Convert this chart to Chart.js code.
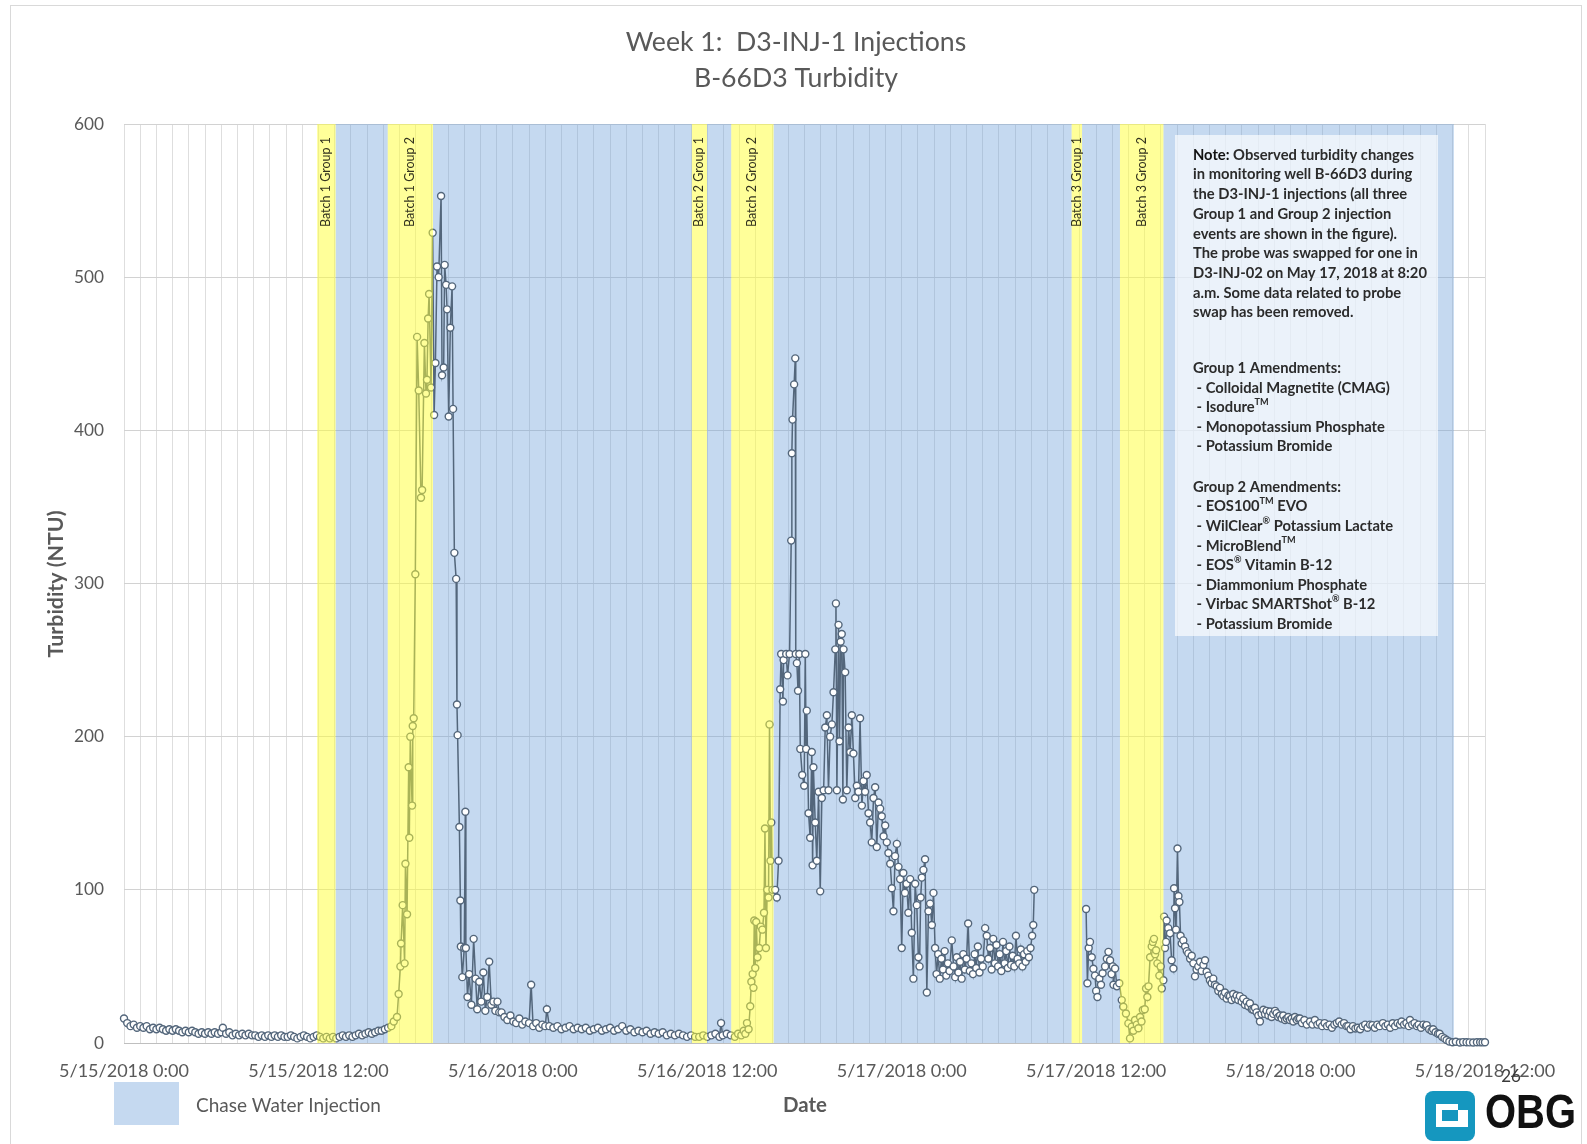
<!DOCTYPE html>
<html><head><meta charset="utf-8">
<script src="https://cdn.jsdelivr.net/npm/chart.js@4.4.0/dist/chart.umd.min.js"></script>
<style>html,body{margin:0;padding:0;background:#fff;}canvas{display:block;}</style>
</head><body>
<canvas id="c" width="1587" height="1144"></canvas>
<script>
// ---------------- DATA (hours after 5/15/2018 0:00, turbidity NTU) ----------------
const xTickLabels = ['5/15/2018 0:00','5/15/2018 12:00','5/16/2018 0:00','5/16/2018 12:00','5/17/2018 0:00','5/17/2018 12:00','5/18/2018 0:00','5/18/2018 12:00'];
const yTickValues = [0,100,200,300,400,500,600];

const segAHours = [0,0.2,0.4,0.6,0.8,1,1.2,1.4,1.6,1.8,2,2.2,2.4,2.6,2.8,3,3.2,3.4,3.6,3.8,4,4.2,4.4,4.6,4.8,5,5.2,5.4,5.6,5.8,6,6.1,
  6.3,6.5,6.7,6.9,7.1,7.3,7.5,7.7,7.9,8.1,8.3,8.5,8.7,8.9,9.1,9.3,9.5,9.7,9.9,10.1,10.3,10.5,10.7,10.9,11.1,11.3,11.5,11.7,11.9,12.1,12.3,12.5,12.7,12.9,13.1];
const segANtu = [16,13,11,12,10,11,10,11,9,10,9,10,9,8,9,8,9,8,7,8,7,8,7,6,7,6,7,6,7,6,7,10,
  6,7,5,6,5,6,5,6,5,5,4,5,4,5,4,5,4,5,4,4,5,4,3,4,5,4,3,4,5,4,3,4,3,4,3];

const segBHours = [13.3,13.5,13.7,13.9,14.1,14.3,14.5,14.7,14.9,15.1,15.3,15.5,15.7,15.9,16.1,16.3,16.5];
const segBNtu = [4,5,4,5,4,5,6,5,6,7,6,7,8,8,9,10,11];

const segCHours = [16.65,16.85,16.95,17.06,17.1,17.2,17.32,17.37,17.47,17.57,17.61,17.67,17.78,17.82,17.88,17.98,18.09,18.19,18.33,18.4,
  18.54,18.64,18.7,18.77,18.83,18.95,19.05,19.14,19.22,19.32,19.42,19.57,19.63,19.73,19.79,19.88,19.94,20.04,20.14,20.25,
  20.31,20.39,20.5,20.55,20.59,20.7,20.76,20.79,20.88];
const segCNtu = [14,17,32,50,65,90,52,117,84,180,134,200,155,207,212,306,461,426,356,361,
  457,424,433,473,489,428,529,410,444,507,500,553,436,441,508,495,479,409,467,494,
  414,320,303,221,201,141,93,63,43];

const segDHours = [21.0,21.07,21.1,21.2,21.3,21.44,21.58,21.7,21.8,21.93,22.05,22.18,22.3,22.42,22.54,22.67,22.8,22.92,23.05,23.16,
  23.3,23.48,23.66,23.85,24.03,24.2,24.4,24.58,24.77,25.0,25.13,25.25,25.44,25.63,25.82,26.0,26.1,26.25];
const segDNtu = [62,151,62,30,45,25,68,42,22,40,27,46,21,30,53,25,27,21,27,20,
  20,17,15,18,14,13,16,12,14,13,38,11,13,10,12,11,22,11];

const segEHours = [26.5,26.75,27,27.25,27.5,27.75,28,28.25,28.5,28.75,29,29.25,29.5,29.75,30,30.25,30.5,30.75,31,31.25,31.5,
  31.75,32,32.25,32.5,32.75,33,33.25,33.5,33.75,34,34.25,34.5,34.75,35,35.25,35.5,35.75,36,36.25,36.5,36.75,36.85,36.95,37.2,37.45];
const segENtu = [10,11,9,10,11,9,10,9,10,8,9,10,8,9,10,8,9,11,8,9,7,
  8,7,8,6,7,6,7,5,6,5,6,5,4,5,4,4,5,4,5,6,4,13,5,6,5];

const segFHours = [37.7,37.9,38.1,38.25,38.35,38.45,38.55,38.65,38.72,38.8,38.85,38.9,38.96,39.02,39.1,39.2,39.3,39.4,39.5,39.56,
  39.62,39.7,39.78,39.84,39.9,39.95,40.02];
const segFNtu = [4,6,5,8,6,13,9,24,40,45,36,80,49,79,56,62,76,74,85,140,
  62,100,95,208,119,144,100];

const segGHours = [40.19,40.29,40.4,40.5,40.56,40.67,40.71,40.87,40.95,41.08,
  41.18,41.22,41.26,41.36,41.43,41.46,41.53,41.6,41.68,41.74,
  41.86,41.98,42.05,42.1,42.14,42.25,42.35,42.45,42.5,42.55,
  42.66,42.76,42.87,42.97,43.07,43.18,43.28,43.38,43.48,43.58,
  43.69,43.79,43.9,43.94,44.0,44.1,44.16,44.23,44.3,44.37,
  44.41,44.51,44.61,44.72,44.82,44.92,45.02,45.13,45.23,45.33,
  45.43,45.54,45.64,45.74,45.84,45.95,46.05,46.15,46.26,46.36,
  46.46,46.57,46.67,46.77,46.88,46.98,47.08];
const segGNtu = [100,95,119,231,254,223,250,254,240,254,
  328,385,407,430,447,254,248,230,254,192,
  175,168,254,192,217,150,134,190,116,180,
  144,119,164,99,160,165,206,214,165,200,
  208,229,257,287,165,273,197,262,267,159,
  257,242,165,206,190,214,189,160,168,164,
  212,155,171,164,175,150,144,131,160,167,
  128,157,153,148,135,142,131];

const segHHours = [47.18,47.29,47.39,47.49,47.59,47.7,47.8,47.9,48.0,48.1,
  48.2,48.3,48.41,48.52,48.62,48.72,48.83,48.93,49.03,49.1,
  49.17,49.24,49.34,49.44,49.55,49.65,49.75,49.86,49.96,50.06];
const segHNtu = [124,117,101,86,122,130,115,107,62,111,
  98,104,85,107,72,42,104,90,56,50,
  95,108,113,120,33,86,91,77,98,62];

const segIHours = [50.15,50.25,50.35,50.45,50.55,50.65,50.75,50.85,50.95,51.09,
  51.2,51.3,51.4,51.5,51.6,51.7,51.8,51.9,52.0,52.1,
  52.2,52.3,52.4,52.5,52.6,52.7,52.8,52.9,53.0,53.15,
  53.25,53.35,53.45,53.55,53.65,53.75,53.85,53.95,54.05,54.15,
  54.25,54.35,54.45,54.55,54.65,54.75,54.85,54.95,55.05,55.15,
  55.25,55.35,55.45,55.55,55.65,55.75,55.85,55.95,56.05,56.12,56.18];
const segINtu = [45,58,42,55,48,60,44,52,47,67,
  50,43,56,46,53,42,58,48,55,78,
  47,52,45,58,49,63,46,55,50,75,
  70,55,62,48,68,52,64,50,58,47,
  66,52,60,49,63,51,57,50,70,55,
  52,61,50,58,53,60,56,62,70,77,100];

// probe swap: data removed (gap)
const gapHours = [57.8];
const gapNtu = [null];

const segJHours = [59.38,59.46,59.54,59.62,59.73,59.83,59.93,60.0,60.08,60.2,
  60.3,60.4,60.55,60.66,60.76,60.86,60.95,61.03,61.07,61.17,
  61.28,61.43,61.58,61.68,61.84,61.99,62.09,62.2,62.3,62.4,
  62.51,62.61,62.71,62.8,62.88,63.0,63.08,63.16,63.23,63.33,
  63.43,63.5,63.57,63.64,63.7,63.78,63.9,63.98,64.05,64.15];
const segJNtu = [87.5,39,62,66,56,48.5,44,34,30,42,
  38,45.5,50,55,59.5,54,45,50,38,48.6,
  37,39,28,23.7,19.3,12.8,3,10.7,8,15,
  12,9.6,17,14,21.5,22,35.6,30,37,56,
  63,66,68,58,60.6,52,44,50,35.6,41];

const segKHours = [64.19,64.25,64.31,64.35,64.45,64.56,64.66,64.77,64.81,64.87,
  64.93,65.02,65.08,65.14,65.21,65.28,65.38,65.49,65.59,65.69,
  65.8,65.9,66.0,66.1,66.2,66.3,66.41,66.51,66.62,66.72,
  66.82,66.92,67.02,67.13,67.23,67.33,67.44,67.54,67.64,67.75,
  67.85,67.95,68.05,68.16,68.26,68.36,68.46,68.57,68.67,68.77,
  68.87,68.98,69.08,69.18,69.29,69.39,69.49,69.6,69.7,69.8,
  69.9,70.01,70.11,70.21,70.32,70.42,70.52,70.63,70.73,70.83,
  70.93,71.04,71.14,71.24,71.35,71.45,71.55,71.66,71.76,71.86,
  71.96,72.07,72.17,72.27,72.38,72.48];
const segKNtu = [82.5,62,66,80,75,71.6,54,48.6,101,88,
  74,127,96,92,70,65,67,63,60,58.5,
  55,57,52,43.5,48,50,53,47,51,54,
  46.5,44,41,39,42,38,37,34,36,32,
  30.6,33,29,31,30.6,28,32,29,31,28,
  30.6,27,29,25,27,24,26,22,21.7,23,
  20,18,14,19,21.7,19,21,18,20.6,17,
  19,21,19.5,17,18,16,18,15,16,17,
  15,16,14,17,15,16];

const segLHours = [72.58,72.7,72.85,73.0,73.2,73.35,73.5,73.65,73.8,73.95,
  74.1,74.25,74.4,74.55,74.7,74.85,75.0,75.15,75.3,75.45,
  75.56,75.7,75.85,76.0,76.15,76.3,76.45,76.6,76.75,76.9,
  77.05,77.2,77.35,77.5,77.7,77.85,78.0,78.15,78.3,78.45,
  78.6,78.75,78.85,79.0,79.15,79.3,79.37,79.5,79.65,79.8,
  79.9,80.05,80.2,80.35,80.4,80.55,80.7,80.8,80.95,81.1,
  81.2,81.35,81.5,81.63,81.8,82.0,82.2,82.45,82.65,82.86,
  83.05,83.27,83.5,83.7,83.85,84.0];
const segLNtu = [16,13,15,12,14,12,15,12,13,11,
  13,11,12,10,12,13,14,12,13,11,
  11,9,11,9.5,10,9,11,12,10,12,
  11.7,10,12,11,13,11,12,10,12.9,11,
  13,12,14,12,13,11,15,12,13,11,
  12,10,12,11,11.7,9,8,9,7,6,
  6,4,3,2,1,0.5,0.8,0.3,0.6,0.5,
  0.4,0.3,0.5,0.5,0.4,0.5];

// Injection events (hours)
const yellowStart = [11.92,16.28,35.05,37.48,58.49,61.47];
const yellowEnd   = [13.06,19.07,35.98,40.09,59.13,64.15];
const yellowNames = ['Batch 1 Group 1','Batch 1 Group 2','Batch 2 Group 1','Batch 2 Group 2','Batch 3 Group 1','Batch 3 Group 2'];
const blueStart = [13.06,19.07,35.98,40.09,59.13,64.15];
const blueEnd   = [16.28,35.05,37.48,58.49,61.47,82.08];

const titleLines = ['Week 1:  D3-INJ-1 Injections','B-66D3 Turbidity'];
const noteLines = ['Note: Observed turbidity changes','in monitoring well B-66D3 during','the D3-INJ-1 injections (all three',
  'Group 1 and Group 2 injection','events are shown in the figure).','The probe was swapped for one in',
  'D3-INJ-02 on May 17, 2018 at 8:20','a.m. Some data related to probe','swap has been removed.'];
const group1Lines = ['Group 1 Amendments:',' - Colloidal Magnetite (CMAG)',' - Isodure^TM',' - Monopotassium Phosphate',' - Potassium Bromide'];
const group2Lines = ['Group 2 Amendments:',' - EOS100^TM EVO',' - WilClear^\u00AE Potassium Lactate',' - MicroBlend^TM',' - EOS^\u00AE Vitamin B-12',
  ' - Diammonium Phosphate',' - Virbac SMARTShot^\u00AE B-12',' - Potassium Bromide'];

// ---------------- build ----------------
const hours = [].concat(segAHours,segBHours,segCHours,segDHours,segEHours,segFHours,segGHours,segHHours,segIHours,gapHours,segJHours,segKHours,segLHours);
const ntu = [].concat(segANtu,segBNtu,segCNtu,segDNtu,segENtu,segFNtu,segGNtu,segHNtu,segINtu,gapNtu,segJNtu,segKNtu,segLNtu);
const points = hours.map((h,i)=>({x:h,y:ntu[i]}));

const FAM = 'Lato, "Open Sans", "DejaVu Sans", sans-serif';
const mctx = document.createElement('canvas').getContext('2d');
function fitSize(text, weight, target){ mctx.font = weight+' 100px '+FAM; return 100*target/mctx.measureText(text).width; }
const GRAY = '#595959';
const LINE = '#53667b';
const xtSize = fitSize('5/15/2018 0:00','normal',130);
const ytSize = fitSize('600','normal',30);

const overlay = {
  id:'overlay',
  beforeDatasetsDraw(chart){
    const {ctx, chartArea:a, scales:{x}} = chart;
    ctx.save();
    ctx.fillStyle = 'rgba(110,160,218,0.4)';
    for(let i=0;i<blueStart.length;i++){
      const x0=x.getPixelForValue(blueStart[i]), x1=x.getPixelForValue(blueEnd[i]);
      ctx.fillRect(x0,a.top,x1-x0,a.bottom-a.top);
    }
    ctx.restore();
  },
  afterDatasetsDraw(chart){
    const {ctx, chartArea:a, scales:{x}} = chart;
    ctx.save();
    ctx.fillStyle = 'rgba(255,255,51,0.5)';
    for(let i=0;i<yellowStart.length;i++){
      const x0=x.getPixelForValue(yellowStart[i]), x1=x.getPixelForValue(yellowEnd[i]);
      ctx.fillRect(x0,a.top,x1-x0,a.bottom-a.top);
    }
    // batch labels
    const bs = fitSize('Batch 1 Group 1','normal',90);
    ctx.fillStyle = '#33331f';
    ctx.font = 'normal '+bs.toFixed(2)+'px '+FAM;
    ctx.textAlign='right'; ctx.textBaseline='middle';
    for(let i=0;i<yellowStart.length;i++){
      const cx=(x.getPixelForValue(yellowStart[i])+x.getPixelForValue(yellowEnd[i]))/2;
      ctx.save(); ctx.translate(cx, a.top+13); ctx.rotate(-Math.PI/2);
      ctx.fillText(yellowNames[i],0,0); ctx.restore();
    }
    // note box
    const bx=1175, by=135, bw=263, bh=501;
    ctx.fillStyle='rgba(255,255,255,0.65)';
    ctx.fillRect(bx,by,bw,bh);
    const ns = fitSize('Note: Observed turbidity changes','bold',221);
    const lx = 1193;
    function rich(str, x0, y0, color){
      const parts = str.split(/\^(\S+)/);
      let cx = x0;
      for(let k=0;k<parts.length;k++){
        const sup = k%2===1;
        const sz = sup ? ns*0.62 : ns;
        ctx.font='bold '+sz.toFixed(2)+'px '+FAM;
        ctx.fillStyle=color;
        ctx.textAlign='left'; ctx.textBaseline='middle';
        ctx.fillText(parts[k], cx, sup ? y0-ns*0.38 : y0);
        cx += ctx.measureText(parts[k]).width;
      }
    }
    const step = 19.7;
    noteLines.forEach((t,i)=>{
      if(i===0){
        ctx.font='bold '+ns.toFixed(2)+'px '+FAM;
        ctx.fillStyle='#111'; ctx.textAlign='left'; ctx.textBaseline='middle';
        ctx.fillText('Note:', lx, 155);
        const w = ctx.measureText('Note:').width;
        rich(t.slice(5), lx+w, 155, '#2b2b2b');
      } else rich(t, lx, 155+i*step, '#2b2b2b');
    });
    group1Lines.forEach((t,i)=>rich(t, lx, 368.5+i*19.5, '#2b2b2b'));
    group2Lines.forEach((t,i)=>rich(t, lx, 487+i*19.6, '#2b2b2b'));
    ctx.restore();
  },
  afterDraw(chart){
    const ctx = chart.ctx;
    ctx.save();
    // outer border
    ctx.strokeStyle='#d9d9d9'; ctx.lineWidth=1;
    ctx.strokeRect(10.5,5.5,1571,1160);
    // title
    const ts = (fitSize(titleLines[0],'normal',341)+fitSize(titleLines[1],'normal',204))/2;
    ctx.font='normal '+ts.toFixed(2)+'px '+FAM; ctx.fillStyle=GRAY;
    ctx.textAlign='center'; ctx.textBaseline='middle';
    ctx.fillText(titleLines[0],796,42.5);
    ctx.fillText(titleLines[1],796,78);
    // y axis title
    const ys = fitSize('Turbidity (NTU)','bold',147);
    ctx.save(); ctx.translate(56,584); ctx.rotate(-Math.PI/2);
    ctx.font='bold '+ys.toFixed(2)+'px '+FAM; ctx.fillText('Turbidity (NTU)',0,0); ctx.restore();
    // x axis title
    const ds = fitSize('Date','bold',44);
    ctx.font='bold '+ds.toFixed(2)+'px '+FAM; ctx.fillText('Date',805,1105);
    // legend
    ctx.fillStyle='#c5d9f0'; ctx.fillRect(114,1082,65,43);
    const ls = fitSize('Chase Water Injection','normal',185);
    ctx.font='normal '+ls.toFixed(2)+'px '+FAM; ctx.fillStyle=GRAY; ctx.textAlign='left';
    ctx.fillText('Chase Water Injection',196,1106);
    // page number
    ctx.font='normal 17px '+FAM; ctx.fillStyle='#3a3a3a'; ctx.textAlign='center';
    ctx.fillText('26',1511,1077);
    // OBG logo
    const teal='#1597bf';
    ctx.fillStyle=teal;
    ctx.beginPath(); ctx.roundRect(1425,1091,50,50,8); ctx.fill();
    ctx.fillStyle='#ffffff';
    ctx.fillRect(1436,1104,32,23);
    ctx.fillStyle=teal;
    ctx.fillRect(1442,1110,16,11);
    ctx.fillRect(1458,1104,10,6);
    ctx.fillStyle='#111';
    ctx.font='bold 48px "Liberation Sans", Arial, sans-serif';
    ctx.textAlign='left'; ctx.textBaseline='middle';
    const ow = ctx.measureText('OBG').width;
    ctx.save(); ctx.translate(1485,1115); ctx.scale(91/ow,1);
    ctx.fillText('OBG',0,0); ctx.restore();
    ctx.restore();
  }
};

new Chart(document.getElementById('c'), {
  type:'line',
  data:{datasets:[{
    data: points, borderColor: LINE, borderWidth:1.5, tension:0, spanGaps:false, clip:8,
    pointRadius:3.5, pointBorderWidth:1.4, pointBackgroundColor:'#ffffff', pointBorderColor: LINE
  }]},
  options:{
    responsive:false, animation:false, devicePixelRatio:1,
    layout:{padding:{left:64,right:102,top:124,bottom:61}},
    plugins:{legend:{display:false}, tooltip:{enabled:false}, title:{display:false}},
    scales:{
      x:{type:'linear', min:0, max:84,
        afterFit(s){ s.height=40; },
        ticks:{stepSize:1, autoSkip:false, maxTicksLimit:200, maxRotation:0, minRotation:0, padding:17, color:GRAY,
          font:{family:FAM, size:xtSize},
          callback:(v)=> (Math.abs(v%12)<1e-6 ? xTickLabels[Math.round(v/12)] : '')},
        grid:{color:'#dedede', drawTicks:false, lineWidth:1},
        border:{color:'#bfbfbf'}},
      y:{min:0, max:600,
        afterFit(s){ s.width=60; },
        afterBuildTicks(s){ s.ticks = yTickValues.map(v=>({value:v})); },
        ticks:{padding:20, color:GRAY, font:{family:FAM, size:ytSize}},
        grid:{color:'#d2d2d2', drawTicks:false},
        border:{display:false}}
    }
  },
  plugins:[overlay]
});
</script>
</body></html>
